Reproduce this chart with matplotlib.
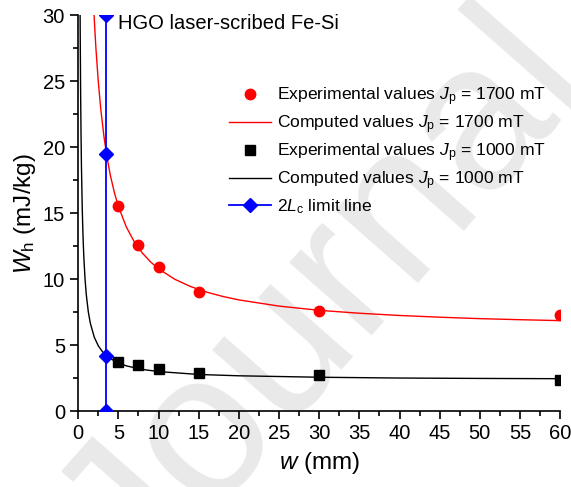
import matplotlib
matplotlib.use('Agg')
import matplotlib.pyplot as plt
from matplotlib.ticker import MultipleLocator

plt.rcParams['font.family'] = ['Liberation Sans', 'DejaVu Sans']
plt.rcParams['mathtext.fontset'] = 'custom'
plt.rcParams['mathtext.it'] = 'Liberation Sans:italic'
plt.rcParams['mathtext.rm'] = 'Liberation Sans'

# measured hysteresis loss, HGO laser-scribed Fe-Si
w_exp = [5, 7.5, 10, 15, 30, 60]
wh_exp_1700 = [15.5, 12.6, 10.9, 9.0, 7.55, 7.3]
wh_exp_1000 = [3.68, 3.45, 3.16, 2.86, 2.7, 2.35]

# model curves
w_calc_1700 = [1.9, 2.0, 2.2, 2.5, 2.8, 3.2, 3.6, 4.0, 4.5, 5, 6, 7, 8, 9, 10, 12, 14,
               16, 18, 20, 25, 30, 35, 40, 45, 50, 55, 60]
wh_calc_1700 = [30.9, 29.66, 27.51, 24.94, 22.92, 20.81, 19.17, 17.86, 16.55, 15.50, 13.93,
                12.80, 11.96, 11.30, 10.78, 9.99, 9.43, 9.01, 8.68, 8.42, 7.95, 7.63,
                7.41, 7.24, 7.11, 7.00, 6.92, 6.85]
w_calc_1000 = [0.22, 0.25, 0.3, 0.35, 0.4, 0.5, 0.6, 0.7, 0.85, 1.0, 1.25, 1.5, 2.0,
               2.5, 3.0, 3.5, 4, 5, 6, 8, 10, 15, 20, 30, 40, 50, 60]
wh_calc_1000 = [31.9, 28.34, 24.01, 20.91, 18.59, 15.34, 13.17, 11.63, 9.99, 8.84,
                7.54, 6.67, 5.59, 4.94, 4.51, 4.20, 3.97, 3.64, 3.42, 3.15, 2.99,
                2.77, 2.67, 2.56, 2.50, 2.47, 2.45]

# 2Lc limit
w_lim = [3.5, 3.5, 3.5, 3.5]
wh_lim = [0, 4.2, 19.5, 30]

fig = plt.figure(figsize=(5.71, 4.87), dpi=100)
ax = fig.add_axes([0.137, 0.156, 0.844, 0.813])

# pre-proof stamp behind the data
ax.text(0.571, 0.378, 'Journal', transform=fig.transFigure, fontsize=150,
        color='#e9e9e9', rotation=48.6, ha='center', va='center', zorder=0)

ax.plot(w_exp, wh_exp_1700, 'o', color='red', ms=7.5, ls='none',
        label=r'Experimental values $J_\mathrm{p}$ = 1700 mT', zorder=4)
ax.plot(w_calc_1700, wh_calc_1700, '-', color='red', lw=1,
        label=r'Computed values $J_\mathrm{p}$ = 1700 mT', zorder=3)
ax.plot(w_exp, wh_exp_1000, 's', color='black', ms=7, ls='none',
        label=r'Experimental values $J_\mathrm{p}$ = 1000 mT', zorder=4)
ax.plot(w_calc_1000, wh_calc_1000, '-', color='black', lw=1,
        label=r'Computed values $J_\mathrm{p}$ = 1000 mT', zorder=3)
ax.plot(w_lim, wh_lim, '-D', color='blue', lw=1.3, ms=7,
        label=r'2$L_\mathrm{c}$ limit line', zorder=5)

ax.text(5.0, 29.4, 'HGO laser-scribed Fe-Si', fontsize=14.5, va='center', ha='left')

ax.set_xlim(0, 60)
ax.set_ylim(0, 30)
ax.xaxis.set_major_locator(MultipleLocator(5))
ax.xaxis.set_minor_locator(MultipleLocator(2.5))
ax.yaxis.set_major_locator(MultipleLocator(5))
ax.yaxis.set_minor_locator(MultipleLocator(2.5))
ax.tick_params(which='major', direction='out', length=6, width=1.2, labelsize=14.5)
ax.tick_params(which='minor', direction='out', length=3.5, width=1.2)
for s in ['top', 'right']:
    ax.spines[s].set_visible(False)
for s in ['left', 'bottom']:
    ax.spines[s].set_linewidth(1.2)
ax.patch.set_alpha(0)

ax.set_xlabel(r'$w$ (mm)', fontsize=17.5, labelpad=5)
ax.set_ylabel(r'$W_\mathrm{h}$ (mJ/kg)', fontsize=17.5, labelpad=3)

ax.legend(loc='upper right', bbox_to_anchor=(0.985, 0.84), frameon=False, fontsize=12.6,
          handlelength=2.4, handletextpad=0.35, labelspacing=0.3, borderaxespad=0)

fig.savefig('out.png', dpi=100)
